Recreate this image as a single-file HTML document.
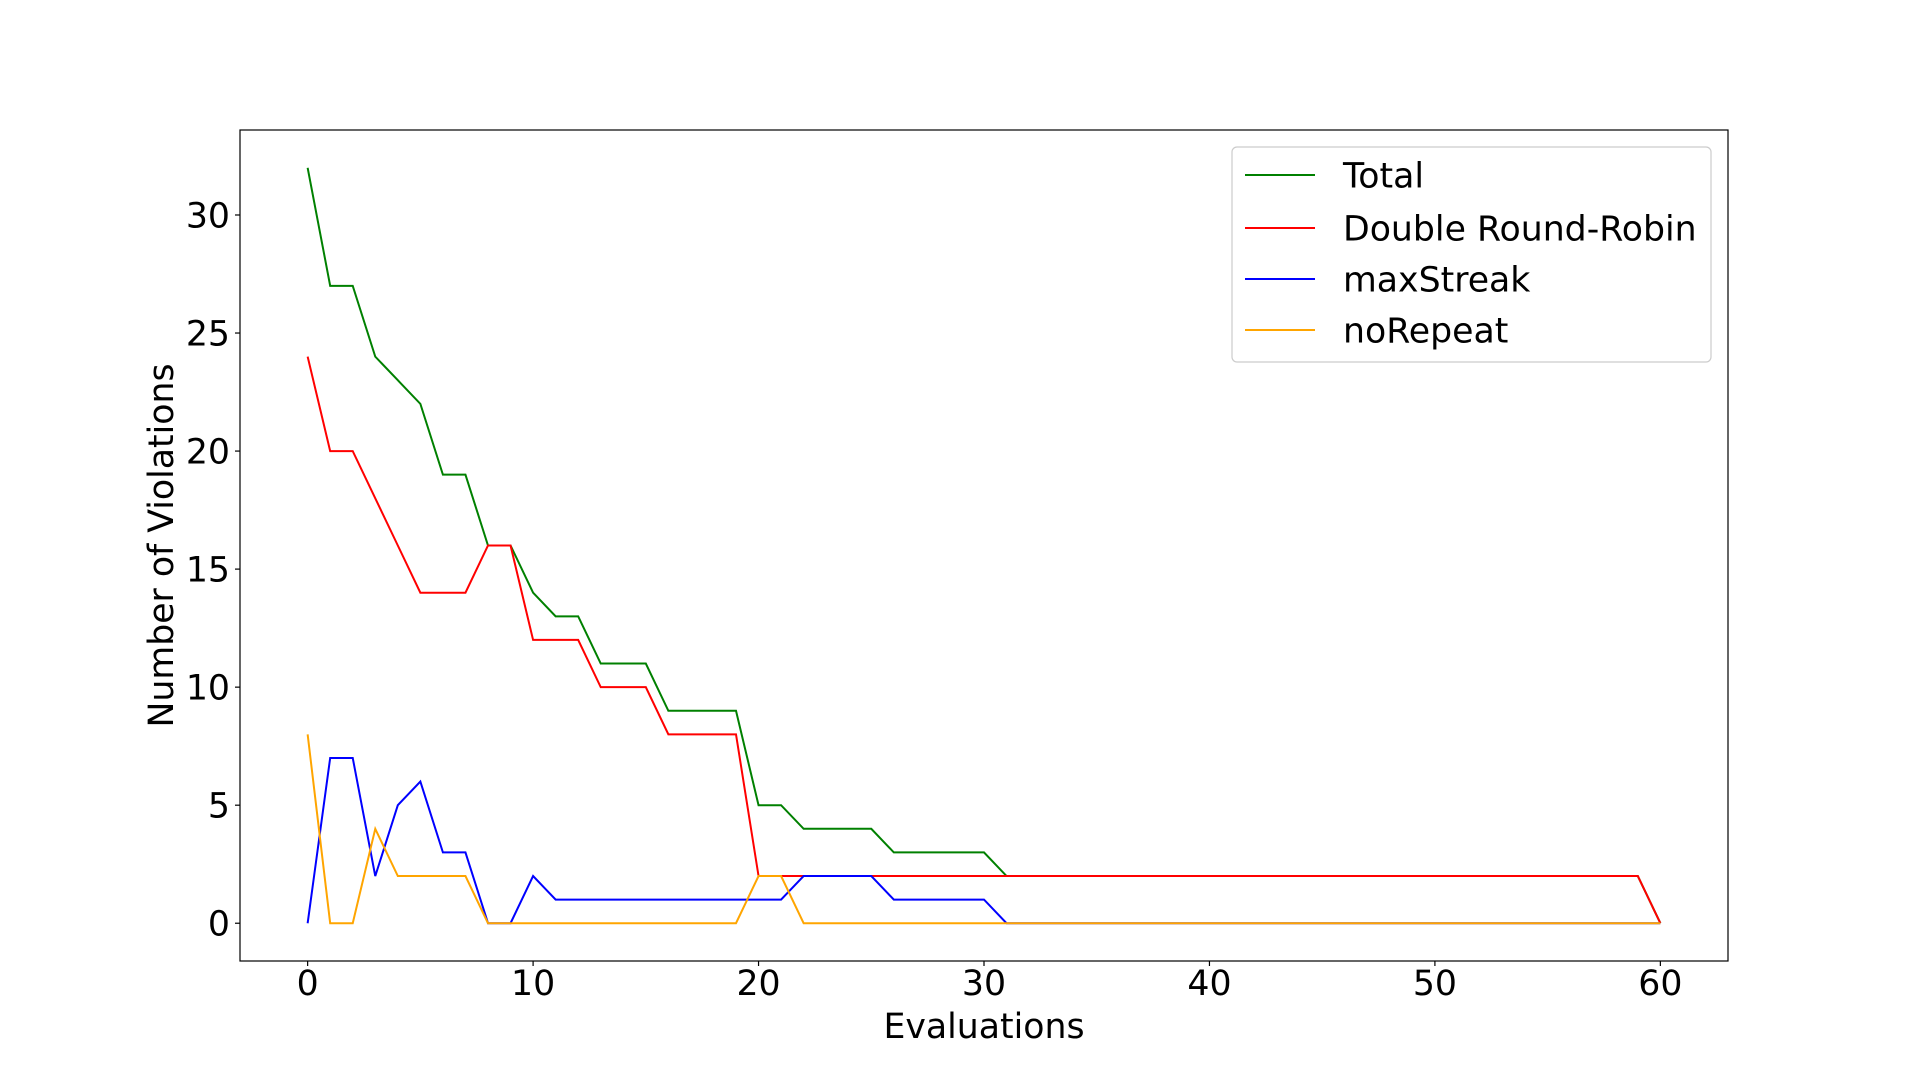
<!DOCTYPE html>
<html><head><meta charset="utf-8"><style>
html,body{margin:0;padding:0;background:#fff;width:1920px;height:1080px;overflow:hidden}
svg text{font-family:"DejaVu Sans","Liberation Sans",sans-serif;fill:#000}
</style></head><body>
<svg id="chart" width="1920" height="1080" xmlns="http://www.w3.org/2000/svg"></svg>
<script>
const evaluations = Array.from({length:61},(_,i)=>i);
const totalValues = [32,27,27,24,23,22,19,19,16,16,14,13,13,11,11,11,9,9,9,9,5,5,4,4,4,4,3,3,3,3,3,2,2,2,2,2,2,2,2,2,2,2,2,2,2,2,2,2,2,2,2,2,2,2,2,2,2,2,2,2,0];
const drrValues = [24,20,20,18,16,14,14,14,16,16,12,12,12,10,10,10,8,8,8,8,2,2,2,2,2,2,2,2,2,2,2,2,2,2,2,2,2,2,2,2,2,2,2,2,2,2,2,2,2,2,2,2,2,2,2,2,2,2,2,2,0];
const maxStreakValues = [0,7,7,2,5,6,3,3,0,0,2,1,1,1,1,1,1,1,1,1,1,1,2,2,2,2,1,1,1,1,1,0,0,0,0,0,0,0,0,0,0,0,0,0,0,0,0,0,0,0,0,0,0,0,0,0,0,0,0,0,0];
const noRepeatValues = [8,0,0,4,2,2,2,2,0,0,0,0,0,0,0,0,0,0,0,0,2,2,0,0,0,0,0,0,0,0,0,0,0,0,0,0,0,0,0,0,0,0,0,0,0,0,0,0,0,0,0,0,0,0,0,0,0,0,0,0,0];
const seriesNames = ["Total","Double Round-Robin","maxStreak","noRepeat"];
const xTicks = [0,10,20,30,40,50,60];
const yTicks = [0,5,10,15,20,25,30];

const L=240,R=1728,T=130,B=961;
const X0=-3,X1=63,Y0=-1.6,Y1=33.6;
const sx=v=>L+(v-X0)/(X1-X0)*(R-L);
const sy=v=>B-(v-Y0)/(Y1-Y0)*(B-T);
const svg=document.getElementById('chart');
const NS='http://www.w3.org/2000/svg';
function mk(tag,attrs,parent){const e=document.createElementNS(NS,tag);for(const k in attrs)e.setAttribute(k,attrs[k]);(parent||svg).appendChild(e);return e;}
const FS=34.7;

const series=[[totalValues,'green','total'],[drrValues,'red','double-round-robin'],[maxStreakValues,'blue','max-streak'],[noRepeatValues,'orange','no-repeat']];
series.forEach(([vals,col,nm])=>{
  const p=mk('polyline',{points:vals.map((v,i)=>sx(evaluations[i])+','+sy(v)).join(' '),fill:'none',stroke:col,'stroke-width':2});
  
  
});
const frame=mk('rect',{x:L,y:T,width:R-L,height:B-T,fill:'none',stroke:'#000','stroke-width':1.2});



xTicks.forEach(t=>{
  const g=mk('g',{});
  
  
  mk('line',{x1:sx(t),x2:sx(t),y1:B,y2:B+5,stroke:'#000','stroke-width':1.2},g);
  const tx=mk('text',{x:sx(t),y:995,'text-anchor':'middle','font-size':FS},g);tx.textContent=t;
});
yTicks.forEach(t=>{
  const g=mk('g',{});
  
  
  mk('line',{x1:L-5,x2:L,y1:sy(t),y2:sy(t),stroke:'#000','stroke-width':1.2},g);
  const tx=mk('text',{x:L-10,y:sy(t)+12.5,'text-anchor':'end','font-size':FS},g);tx.textContent=t;
});
const xl=mk('text',{x:(L+R)/2,y:1038,'text-anchor':'middle','font-size':FS});xl.textContent='Evaluations';


const yl=mk('text',{x:0,y:0,'text-anchor':'middle','font-size':FS,transform:'translate(173,'+((T+B)/2)+') rotate(-90)'});yl.textContent='Number of Violations';



const lg=mk('g',{});


mk('rect',{x:1232,y:147,width:479,height:215,rx:5,fill:'#fff','fill-opacity':0.8,stroke:'#ccc','stroke-width':1.2},lg);
const ly=[175,228,279,330];
series.forEach(([v,col,nm],i)=>{
  const e=mk('g',{},lg);
  
  
  mk('line',{x1:1245,x2:1315,y1:ly[i],y2:ly[i],stroke:col,'stroke-width':2},e);
  const tx=mk('text',{x:1343,y:ly[i]+12.5,'font-size':FS},e);tx.textContent=seriesNames[i];
});
</script>
</body></html>
